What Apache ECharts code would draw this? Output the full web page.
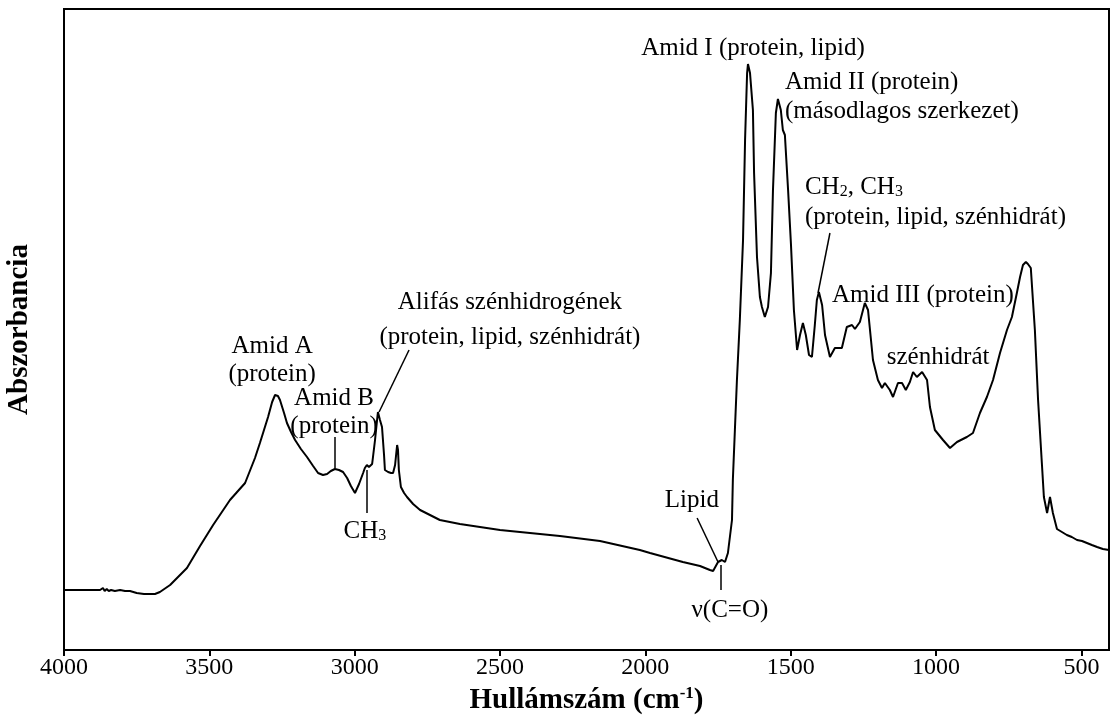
<!DOCTYPE html>
<html>
<head>
<meta charset="utf-8">
<title>FTIR spektrum</title>
<script src="https://cdn.jsdelivr.net/npm/echarts@6/dist/echarts.min.js"></script>
<style>
  html, body { margin: 0; padding: 0; background: #fff; }
  #chart { width: 1111px; height: 727px; }
</style>
</head>
<body>
<div id="chart"></div>
<script>
// hullámszám (cm-1) and abszorbancia
const wavenumber = [4000, 3945, 3876, 3866, 3860, 3853, 3846, 3838, 3825, 3807, 3790, 3773, 3750, 3725, 3700, 3687, 3670, 3635, 3577, 3532,
  3487, 3429, 3377, 3343, 3326, 3312, 3298, 3284, 3274, 3264, 3257, 3243, 3233, 3219, 3205, 3185, 3164, 3143, 3126, 3109,
  3095, 3082, 3068, 3054, 3040, 3026, 3013, 2999, 2985, 2971, 2965, 2958, 2951, 2947, 2940, 2937, 2930, 2923, 2920, 2916,
  2913, 2906, 2899, 2896, 2885, 2875, 2868, 2861, 2854, 2851, 2848, 2841, 2830, 2820, 2799, 2775, 2741, 2707, 2638, 2569,
  2500, 2397, 2294, 2156, 2019, 1984, 1871, 1812, 1778, 1767, 1750, 1737, 1726, 1716, 1702, 1699, 1692, 1685, 1675, 1664,
  1657, 1650, 1647, 1640, 1630, 1626, 1616, 1606, 1599, 1589, 1578, 1568, 1561, 1551, 1544, 1534, 1527, 1520, 1509, 1499,
  1489, 1478, 1468, 1458, 1448, 1437, 1427, 1417, 1410, 1403, 1392, 1382, 1365, 1348, 1324, 1307, 1289, 1279, 1262, 1245,
  1234, 1217, 1200, 1186, 1176, 1159, 1148, 1131, 1117, 1104, 1090, 1079, 1066, 1048, 1031, 1021, 1004, 976, 952, 928,
  894, 873, 849, 825, 804, 780, 756, 739, 722, 711, 701, 691, 684, 674, 660, 649, 636, 629, 618, 608,
  598, 584, 567, 550, 533, 515, 498, 481, 464, 446, 426, 405];

const absorbance = [0.060, 0.060, 0.060, 0.062, 0.059, 0.061, 0.059, 0.060, 0.059, 0.060, 0.059, 0.059, 0.057, 0.056, 0.056, 0.056, 0.058, 0.065, 0.082, 0.104,
  0.125, 0.150, 0.167, 0.192, 0.207, 0.220, 0.233, 0.248, 0.255, 0.254, 0.250, 0.237, 0.227, 0.218, 0.210, 0.201, 0.193, 0.184, 0.177, 0.175,
  0.176, 0.179, 0.181, 0.180, 0.178, 0.172, 0.164, 0.157, 0.166, 0.177, 0.182, 0.185, 0.183, 0.182, 0.186, 0.193, 0.210, 0.230, 0.238, 0.236,
  0.230, 0.223, 0.195, 0.180, 0.178, 0.177, 0.177, 0.185, 0.205, 0.200, 0.180, 0.163, 0.157, 0.153, 0.146, 0.140, 0.135, 0.130, 0.126, 0.123,
  0.120, 0.117, 0.114, 0.109, 0.100, 0.097, 0.088, 0.084, 0.080, 0.079, 0.088, 0.090, 0.088, 0.097, 0.130, 0.170, 0.220, 0.270, 0.330, 0.410,
  0.510, 0.577, 0.586, 0.577, 0.540, 0.477, 0.393, 0.353, 0.343, 0.333, 0.343, 0.377, 0.460, 0.537, 0.551, 0.540, 0.520, 0.515, 0.460, 0.405,
  0.340, 0.300, 0.315, 0.327, 0.315, 0.295, 0.293, 0.325, 0.350, 0.358, 0.345, 0.315, 0.293, 0.302, 0.302, 0.323, 0.325, 0.321, 0.328, 0.347,
  0.340, 0.290, 0.270, 0.262, 0.267, 0.260, 0.253, 0.267, 0.267, 0.260, 0.268, 0.278, 0.273, 0.278, 0.270, 0.243, 0.220, 0.210, 0.202, 0.208,
  0.213, 0.217, 0.237, 0.253, 0.270, 0.297, 0.320, 0.333, 0.357, 0.373, 0.385, 0.388, 0.386, 0.382, 0.320, 0.250, 0.187, 0.153, 0.137, 0.153,
  0.137, 0.121, 0.118, 0.115, 0.113, 0.110, 0.109, 0.107, 0.105, 0.103, 0.101, 0.100];

const tickValues = [4000, 3500, 3000, 2500, 2000, 1500, 1000, 500];

// band labels: text, [wavenumber, absorbance] anchor, alignment
const labels = [
  ['Amid A', 3284, 0.304, 'center'],
  ['(protein)', 3284, 0.276, 'center'],
  ['Amid B', 3071, 0.252, 'center'],
  ['(protein)', 3071, 0.224, 'center'],
  ['CH{sub|3}', 2965, 0.119, 'center'],
  ['Alifás szénhidrogének', 2466, 0.348, 'center'],
  ['(protein, lipid, szénhidrát)', 2466, 0.313, 'center'],
  ['Amid I (protein, lipid)', 1630, 0.602, 'center'],
  ['Amid II (protein)', 1520, 0.568, 'left'],
  ['(másodlagos szerkezet)', 1520, 0.539, 'left'],
  ['CH{sub|2}, CH{sub|3}', 1451, 0.463, 'left'],
  ['(protein, lipid, szénhidrát)', 1451, 0.433, 'left'],
  ['Amid III (protein)', 1358, 0.355, 'left'],
  ['szénhidrát', 993, 0.293, 'center'],
  ['Lipid', 1840, 0.150, 'center'],
  ['ν(C=O)', 1709, 0.040, 'center']
];

// pointer lines from label to band
const pointers = [
  [[3068, 0.213], [3068, 0.182]],
  [[2958, 0.180], [2958, 0.137]],
  [[2813, 0.300], [2916, 0.238]],
  [[1365, 0.417], [1406, 0.357]],
  [[1822, 0.132], [1750, 0.088]],
  [[1740, 0.085], [1740, 0.060]]
];

const serif = '"Liberation Serif", "Times New Roman", serif';
const chart = echarts.init(document.getElementById('chart'));

chart.setOption({
  animation: false,
  grid: {
    left: 64, right: 2, top: 9, bottom: 77,
    outerBoundsMode: 'none',
    show: true, borderColor: '#000', borderWidth: 2
  },
  xAxis: {
    type: 'value',
    inverse: true,
    min: 405,
    max: 4000,
    name: '{b|Hullámszám (cm}{sup|-1}{b|)}',
    nameLocation: 'middle',
    nameGap: 32,
    nameTextStyle: {
      rich: {
        b: { fontFamily: serif, fontWeight: 'bold', fontSize: 29, color: '#000', lineHeight: 32 },
        sup: { fontFamily: serif, fontWeight: 'bold', fontSize: 17, color: '#000', verticalAlign: 'top', lineHeight: 32 }
      }
    },
    axisLine: { show: true, onZero: false, lineStyle: { color: '#000', width: 2 } },
    axisTick: { show: true, customValues: tickValues, length: 6, lineStyle: { color: '#000', width: 2 } },
    axisLabel: {
      customValues: tickValues,
      formatter: v => String(v),
      margin: 6, fontFamily: serif, fontSize: 24, color: '#000'
    },
    splitLine: { show: false }
  },
  yAxis: {
    type: 'value',
    min: 0,
    max: 0.641,
    name: 'Abszorbancia',
    nameLocation: 'middle',
    nameGap: 30,
    nameTextStyle: { fontFamily: serif, fontWeight: 'bold', fontSize: 29, color: '#000' },
    axisLine: { show: true, lineStyle: { color: '#000', width: 2 } },
    axisTick: { show: false },
    axisLabel: { show: false },
    splitLine: { show: false }
  },
  series: [{
    type: 'line',
    data: wavenumber.map((w, i) => [w, absorbance[i]]),
    showSymbol: false,
    lineStyle: { color: '#000', width: 2 },
    silent: true,
    markLine: {
      silent: true,
      symbol: ['none', 'none'],
      label: { show: false },
      lineStyle: { color: '#000', width: 1.5, type: 'solid' },
      data: pointers.map(p => [{ coord: p[0] }, { coord: p[1] }])
    }
  }]
});

// place the band labels through the axes
const rich = {
  sub: { fontFamily: serif, fontSize: 16, fill: '#000', verticalAlign: 'bottom', lineHeight: 26 }
};
chart.setOption({
  graphic: labels.map(l => {
    const pt = chart.convertToPixel({ seriesIndex: 0 }, [l[1], l[2]]);
    return {
      type: 'text',
      x: pt[0],
      y: pt[1],
      silent: true,
      style: {
        text: l[0],
        fontFamily: serif,
        fontSize: 25,
        fill: '#000',
        align: l[3],
        verticalAlign: 'middle',
        rich: rich
      }
    };
  })
});
</script>
</body>
</html>
